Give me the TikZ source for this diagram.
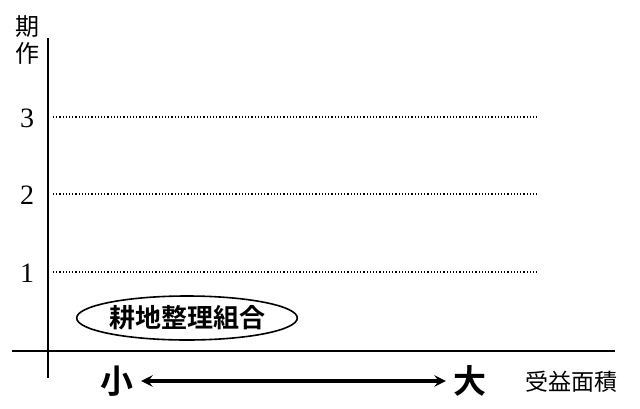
\documentclass[tikz,border=0pt]{standalone}
\usepackage{fontspec}
\setmainfont{Liberation Serif}
\newfontfamily\cjk{Noto Sans CJK JP}
\newfontfamily\cjkb{Noto Sans CJK JP Bold}
\usetikzlibrary{shapes.geometric, arrows}
\tikzstyle{gridline} = [line width=1.2pt, dotted]
\tikzstyle{axis} = [line width=2pt]
\tikzstyle{tick} = [font=\fontsize{28}{30}\selectfont]
\tikzstyle{bigword} = [font=\cjkb\fontsize{33}{36}\selectfont]
\tikzstyle{arrow} = [line width=4pt,<->,>=stealth]

\begin{document}
\begin{tikzpicture}[x=1pt,y=-1pt]
\useasboundingbox (0,0) rectangle (640,408);

\coordinate (top) at (48,38);
\coordinate (origin) at (48,378);
\coordinate (hleft) at (12,351);
\coordinate (hright) at (615,351);
\draw [axis] (top) -- (origin);
\draw [axis] (hleft) -- (hright);

\node (ki) [font=\cjk\fontsize{24}{26}\selectfont] at (28,27) {期};
\node (saku) [font=\cjk\fontsize{24}{26}\selectfont] at (28,53) {作};

\node (t3) [tick] at (27,118) {3};
\node (t2) [tick] at (27,195) {2};
\node (t1) [tick] at (27,273) {1};
\foreach \y in {117,194,272}
  \draw [gridline] (53,\y) -- (538,\y);

\node (kumiai) [ellipse, draw, line width=1.6pt, minimum width=210pt, minimum height=44pt, inner sep=0pt,
  font=\cjkb\fontsize{26}{28}\selectfont] at (187,318) {耕地整理組合};

\node (small) [bigword] at (117,381) {小};
\node (large) [bigword] at (470,381) {大};
\node (area) [font=\cjk\fontsize{23}{25}\selectfont] at (571,382) {受益面積};

\path (small.east) ++(4,0) coordinate (a1) (large.west) ++(-4,0) coordinate (a2);
\draw [arrow] (a1) -- (a2);

\end{tikzpicture}
\end{document}
